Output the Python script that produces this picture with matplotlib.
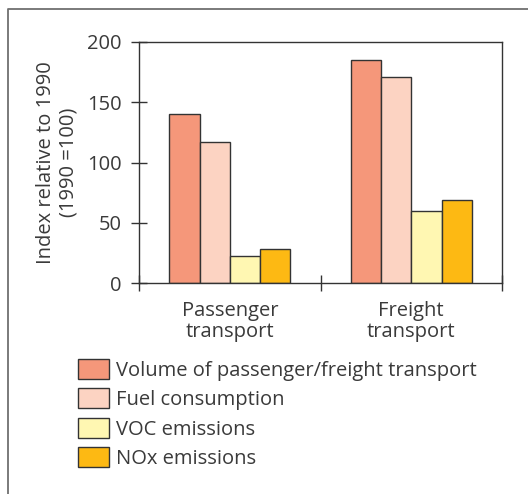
import matplotlib
matplotlib.use("Agg")
import matplotlib.pyplot as plt
from matplotlib.lines import Line2D
from matplotlib.patches import Patch
import numpy as np

categories = ["Passenger\ntransport", "Freight\ntransport"]
series_names = [
    "Volume of passenger/freight transport",
    "Fuel consumption",
    "VOC emissions",
    "NOx emissions",
]
volume = [140, 185]
fuel = [117, 171]
voc = [23, 60]
nox = [28.5, 69]
series_values = [volume, fuel, voc, nox]
colors = ["#F5977A", "#FCD3C2", "#FFF7B2", "#FDB913"]
y_ticks = [0, 50, 100, 150, 200]

plt.rcParams["font.family"] = ["Open Sans", "DejaVu Sans"]
text_color = "#3a3a3a"
edge_color = "#333333"
fs = 14.5

fig = plt.figure(figsize=(5.28, 4.94), dpi=100)
ax = fig.add_axes([0.2633, 0.4265, 0.6875, 0.4885])

n = len(series_values)
width = 1 / 6
x = np.arange(len(categories))
for i, (vals, col) in enumerate(zip(series_values, colors)):
    offs = (i - (n - 1) / 2) * width
    ax.bar(x + offs, vals, width, color=col, edgecolor=edge_color,
           linewidth=1.0, label=series_names[i], zorder=2)

ax.set_xlim(-0.5, 1.5)
ax.set_ylim(0, 200)
ax.set_yticks(y_ticks)
ax.set_yticklabels([str(t) for t in y_ticks], fontsize=fs, color=text_color)
ax.tick_params(axis="y", direction="inout", length=11, width=1.0,
               color=edge_color, pad=7)

# category labels without tick marks; separator ticks between groups
ax.set_xticks(x)
ax.set_xticklabels(categories, fontsize=fs, color=text_color, linespacing=1.05)
ax.tick_params(axis="x", which="major", length=0, pad=13)
ax.set_xticks([-0.5, 0.5, 1.5], minor=True)
ax.tick_params(axis="x", which="minor", direction="inout", length=11,
               width=1.0, color=edge_color)

for s in ax.spines.values():
    s.set_color(edge_color)
    s.set_linewidth(1.0)

ax.set_ylabel("Index relative to 1990\n(1990 =100)", fontsize=fs,
              color=text_color, linespacing=1.15, labelpad=6)

handles = [Patch(facecolor=c, edgecolor=edge_color, linewidth=1.0) for c in colors]
fig.legend(handles, series_names, loc="upper left",
           bbox_to_anchor=(78 / 528, 1 - 359 / 494), frameon=False,
           fontsize=fs, handlelength=1.54, handleheight=1.15,
           handletextpad=0.33, labelspacing=0.38, borderaxespad=0,
           borderpad=0, labelcolor=text_color)

# outer frame line
fig.add_artist(Line2D([8 / 528, 8 / 528, 1.0], [0.0, 1 - 9 / 494, 1 - 9 / 494],
                      transform=fig.transFigure, color="#707070", linewidth=1.3))

fig.savefig("out.png", dpi=100)
